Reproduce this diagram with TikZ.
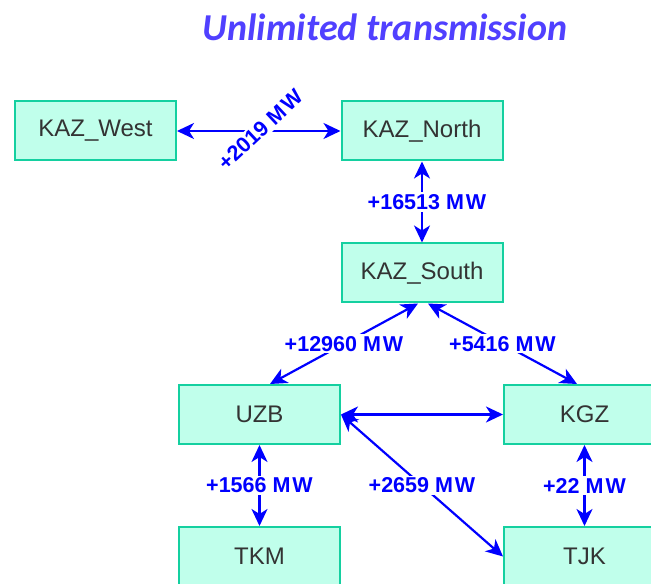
\documentclass[tikz,border=0pt]{standalone}
\usepackage{fontspec}
\setmainfont{Liberation Sans}
\newfontfamily\titlefont{Carlito}
\usetikzlibrary{arrows.meta}
\definecolor{zonefill}{RGB}{192,255,235}
\definecolor{zoneline}{RGB}{20,208,160}
\definecolor{zonetext}{RGB}{51,51,51}
\definecolor{titleblue}{RGB}{80,64,255}
\definecolor{flowblue}{RGB}{0,0,255}

\begin{document}
\begin{tikzpicture}[x=1pt, y=1pt,
		zone/.style={draw=zoneline, fill=zonefill, line width=2pt, minimum width=161pt, minimum height=59pt, inner sep=0pt, text=zonetext, font=\fontsize{24}{27}\selectfont},
		mw/.style={fill=white, text=flowblue, inner sep=2pt, font=\bfseries\fontsize{21.5}{24}\selectfont}]
				\useasboundingbox (0,0) rectangle (651,584);
				\clip (0,0) rectangle (651,584);
				\node[text=titleblue, font=\titlefont\bfseries\itshape\fontsize{38}{42}\selectfont] (title) at (385,557) {Unlimited transmission};
				\node[zone] (west)  at (95.5,453)  {KAZ\_West};
				\node[zone] (north) at (422,453)   {KAZ\_North};
				\node[zone] (south) at (422,311)   {KAZ\_South};
				\node[zone] (uzb)   at (259.5,169.5) {UZB};
				\node[zone] (kgz)   at (584.5,169.5) {KGZ};
				\node[zone] (tkm)   at (259.5,27.5)  {TKM};
				\node[zone] (tjk)   at (584.5,27.5)  {TJK};
				\begin{scope}[draw=flowblue, line width=2.2pt, {Stealth[length=17pt, width=16pt, inset=5pt]}-{Stealth[length=17pt, width=16pt, inset=5pt]}]
					\draw (west.east) -- node[mw, rotate=43, xshift=2pt] {+2019 M\kern2pt W} (north.west);
					\draw (north) -- node[mw, xshift=5pt] {+16513 M\kern2pt W} (south);
					\draw ([xshift=-4pt]south.south) -- node[mw] {+12960 M\kern2pt W} ([xshift=10.5pt]uzb.north);
					\draw ([xshift=6pt]south.south) -- node[mw] {+5416 M\kern2pt W} ([xshift=-7.5pt]kgz.north);
					\draw (uzb.east) -- (kgz.west);
					\draw (uzb.east) -- node[mw] {+2659 M\kern2pt W} (tjk.west);
					\draw (uzb) -- node[mw] {+1566 M\kern2pt W} (tkm);
					\draw (kgz) -- node[mw] {+22 M\kern2pt W} (tjk);
				\end{scope}
			\end{tikzpicture}
\end{document}
